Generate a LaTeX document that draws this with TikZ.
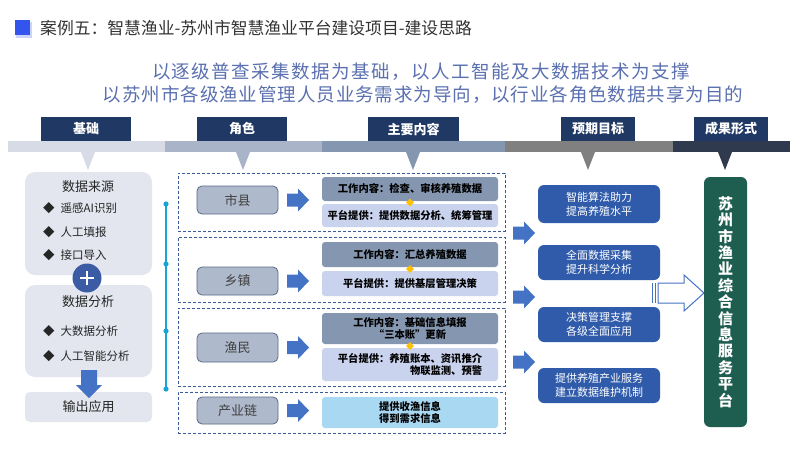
\documentclass[tikz,border=0pt]{standalone}
\usepackage{fontspec}
\setmainfont{Noto Sans CJK SC}
\usetikzlibrary{shapes.geometric}
\definecolor{navy}{HTML}{1F3864}
\definecolor{barA}{HTML}{D6DBE5}
\definecolor{barB}{HTML}{A9B4C8}
\definecolor{barC}{HTML}{8496B0}
\definecolor{barD}{HTML}{808080}
\definecolor{barE}{HTML}{2F3A4F}
\definecolor{leftfill}{HTML}{E3E6EE}
\definecolor{plusc}{HTML}{3B5BA5}
\definecolor{cyanl}{HTML}{1AA3D6}
\definecolor{dashc}{HTML}{3A5A9A}
\definecolor{rolefill}{HTML}{AEB9CB}
\definecolor{roleline}{HTML}{5A6B85}
\definecolor{arrowc}{HTML}{4472C4}
\definecolor{workc}{HTML}{8496B0}
\definecolor{platc}{HTML}{C9D3EE}
\definecolor{chainc}{HTML}{A9D8F2}
\definecolor{goalc}{HTML}{2F5BAA}
\definecolor{finalc}{HTML}{1E5E50}
\definecolor{subc}{HTML}{5A70B0}
\definecolor{titlec}{HTML}{333333}
\definecolor{sqc}{HTML}{3355EE}
\definecolor{yel}{HTML}{FFC000}
\newcommand\myfs[2]{\fontsize{#1}{#2}\selectfont}
\tikzset{
  hdr/.style={fill=navy, text=white, minimum height=24pt, inner sep=0pt, font=\myfs{13}{15}\bfseries},
  leftbox/.style={fill=leftfill, rounded corners=10pt, minimum width=127pt, inner sep=0pt},
  ltitle/.style={font=\myfs{13}{15}, text=black!85},
  litem/.style={font=\myfs{11.5}{14}, text=black!85, anchor=west, inner sep=0pt},
  grp/.style={draw=dashc, densely dashed, line width=0.9pt, minimum width=327pt, inner sep=0pt},
  role/.style={fill=rolefill, draw=roleline, line width=0.8pt, rounded corners=5pt, minimum width=81pt, inner sep=0pt, font=\myfs{13}{15}, text=black!75},
  work/.style={fill=workc, rounded corners=3pt, minimum width=176pt, inner sep=0pt, align=center, font=\myfs{10.3}{12.5}\bfseries},
  plat/.style={fill=platc, rounded corners=3pt, minimum width=176pt, inner sep=0pt, align=center, font=\myfs{10.3}{12.5}\bfseries},
  goal/.style={fill=goalc, rounded corners=6pt, minimum width=122pt, inner sep=0pt, align=center, text=white, font=\myfs{11}{14}},
  ydia/.style={diamond, fill=yel, minimum size=8pt, inner sep=0pt},
  barrow/.pic={\fill[arrowc] (0,-6.5)--(11,-6.5)--(11,-11.5)--(22,0)--(11,11.5)--(11,6.5)--(0,6.5)--cycle;}
}
\begin{document}
\begin{tikzpicture}[x=1pt,y=-1pt]
\useasboundingbox (0,0) rectangle (800,450);
\fill[white] (0,0) rectangle (800,450);
% title
\fill[sqc!25] (16,22) rectangle (32,38);
\fill[sqc] (15,20) rectangle (30,35);
\node[anchor=west, inner sep=0pt, text=titlec, font=\myfs{16.8}{19}] (title) at (40,28) {案例五：智慧渔业-苏州市智慧渔业平台建设项目-建设思路};
% subtitle
\node[text=subc, font=\myfs{18.5}{22}\addfontfeatures{LetterSpace=8}] (sub1) at (421,72) {以逐级普查采集数据为基础，以人工智能及大数据技术为支撑};
\node[text=subc, font=\myfs{18.5}{22}\addfontfeatures{LetterSpace=5}] (sub2) at (423,95) {以苏州市各级渔业管理人员业务需求为导向，以行业各角色数据共享为目的};
% header bar
\fill[barA] (8,141) rectangle (165,152);
\fill[barB] (165,141) rectangle (322,152);
\fill[barC] (322,141) rectangle (505,152);
\fill[barD] (505,141) rectangle (673,152);
\fill[barE] (673,141) rectangle (790,152);
\fill[barA] (81,152) -- (95,152) -- (88,170) -- cycle;
\fill[barB] (236,152) -- (250,152) -- (243,170) -- cycle;
\fill[barC] (406,152) -- (420,152) -- (413,170) -- cycle;
\fill[barD] (581,152) -- (595,152) -- (588,170) -- cycle;
\fill[barE] (718,152) -- (732,152) -- (725,170) -- cycle;
\node[hdr, minimum width=90pt] (h1) at (86,129) {基础};
\node[hdr, minimum width=90pt] (h2) at (242,129) {角色};
\node[hdr, minimum width=91pt] (h3) at (413.5,129) {主要内容};
\node[hdr, minimum width=74pt] (h4) at (598,129) {预期目标};
\node[hdr, minimum width=74pt] (h5) at (731,129) {成果形式};
% left column
\node[leftbox, minimum height=103pt] (lb1) at (88.5,223.5) {};
\node[leftbox, minimum height=92pt] (lb2) at (88.5,331) {};
\node[leftbox, minimum height=30pt, rounded corners=5pt, font=\myfs{13}{15}, text=black!85] (lb3) at (88.5,407) {输出应用};
\node[ltitle] (t1) at (88,187) {数据来源};
\node[litem] (i1) at (43,208) {◆\hspace{6pt}遥感AI识别};
\node[litem] (i2) at (43,232) {◆\hspace{6pt}人工填报};
\node[litem] (i3) at (43,255) {◆\hspace{6pt}接口导入};
\node[ltitle] (t2) at (88,302) {数据分析};
\node[litem] (i4) at (43,331) {◆\hspace{6pt}大数据分析};
\node[litem] (i5) at (43,356) {◆\hspace{6pt}人工智能分析};
\node[circle, fill=plusc, minimum size=29pt, inner sep=0pt] (plus) at (87,278) {};
\draw[white, line width=2.6pt] (80,278) -- (94,278) (87,271) -- (87,285);
\fill[arrowc] (81,370) -- (97,370) -- (97,385) -- (102,385) -- (89,398) -- (76,385) -- (81,385) -- cycle;
% cyan timeline
\draw[cyanl, line width=1.2pt] (166,204) -- (166,389);
\foreach \yy in {204,264,331,389} \fill[cyanl] (166,\yy) circle (2.6pt);
% groups
\node[grp, minimum height=58pt] (g1) at (341.5,202) {};
\node[grp, minimum height=65pt] (g2) at (341.5,269.5) {};
\node[grp, minimum height=78pt] (g3) at (341.5,347) {};
\node[grp, minimum height=41pt] (g4) at (341.5,412.5) {};
% roles
\node[role, minimum height=28pt] (r1) at (237.5,200) {市县};
\node[role, minimum height=28pt] (r2) at (237.5,281) {乡镇};
\node[role, minimum height=29pt] (r3) at (237.5,347.5) {渔民};
\node[role, minimum height=27pt] (r4) at (237.5,410.5) {产业链};
\pic at (287,200) {barrow};
\pic at (287,281) {barrow};
\pic at (287,347.5) {barrow};
\pic at (287,410.5) {barrow};
% content
\node[work, minimum height=24pt] (w1) at (410,189) {工作内容：检查、审核养殖数据};
\node[plat, minimum height=23pt] (p1) at (410,215.5) {平台提供：提供数据分析、统筹管理};
\node[work, minimum height=25pt] (w2) at (410,254.5) {工作内容：汇总养殖数据};
\node[plat, minimum height=25pt] (p2) at (410,283.5) {平台提供：提供基层管理决策};
\node[work, minimum height=31pt] (w3) at (410,328.5) {工作内容：基础信息填报\\“三本账”更新};
\node[plat, minimum height=33pt] (p3) at (410,364.5) {};
\node[font=\myfs{10.3}{12.5}\bfseries, align=right, inner sep=0pt] (p3t) at (410,364.5) {平台提供：养殖账本、资讯推介\\物联监测、预警};
\node[plat, fill=chainc, minimum height=31pt] (c4) at (410,412.5) {提供收渔信息\\得到需求信息};
\node[ydia] (d1) at (410,202.5) {};
\node[ydia] (d2) at (410,269) {};
\node[ydia] (d3) at (410,346) {};
% goals
\pic at (513,233) {barrow};
\pic at (513,297) {barrow};
\pic at (513,362) {barrow};
\node[goal, minimum height=38pt] (o1) at (599,204) {智能算法助力\\提高养殖水平};
\node[goal, minimum height=35pt] (o2) at (599,262.5) {全面数据采集\\提升科学分析};
\node[goal, minimum height=35pt] (o3) at (599,324.5) {决策管理支撑\\各级全面应用};
\node[goal, minimum height=35pt] (o4) at (599,385.5) {提供养殖产业服务\\建立数据维护机制};
% hollow arrow
\fill[white] (658,283) -- (684,283) -- (684,275) -- (704,293) -- (684,311) -- (684,303) -- (658,303) -- cycle;
\draw[arrowc, line width=1pt] (658,283) -- (684,283) -- (684,275) -- (704,293) -- (684,311) -- (684,303) -- (658,303) -- cycle;
\draw[arrowc, line width=1pt] (652,283) -- (652,303) (655,283) -- (655,303);
% final
\node[fill=finalc, rounded corners=6pt, minimum width=43pt, minimum height=250pt, inner sep=0pt, text=white, align=center, font=\myfs{15}{16.4}\bfseries] (fin) at (725.5,302) {苏\\州\\市\\渔\\业\\综\\合\\信\\息\\服\\务\\平\\台};
\end{tikzpicture}
\end{document}
